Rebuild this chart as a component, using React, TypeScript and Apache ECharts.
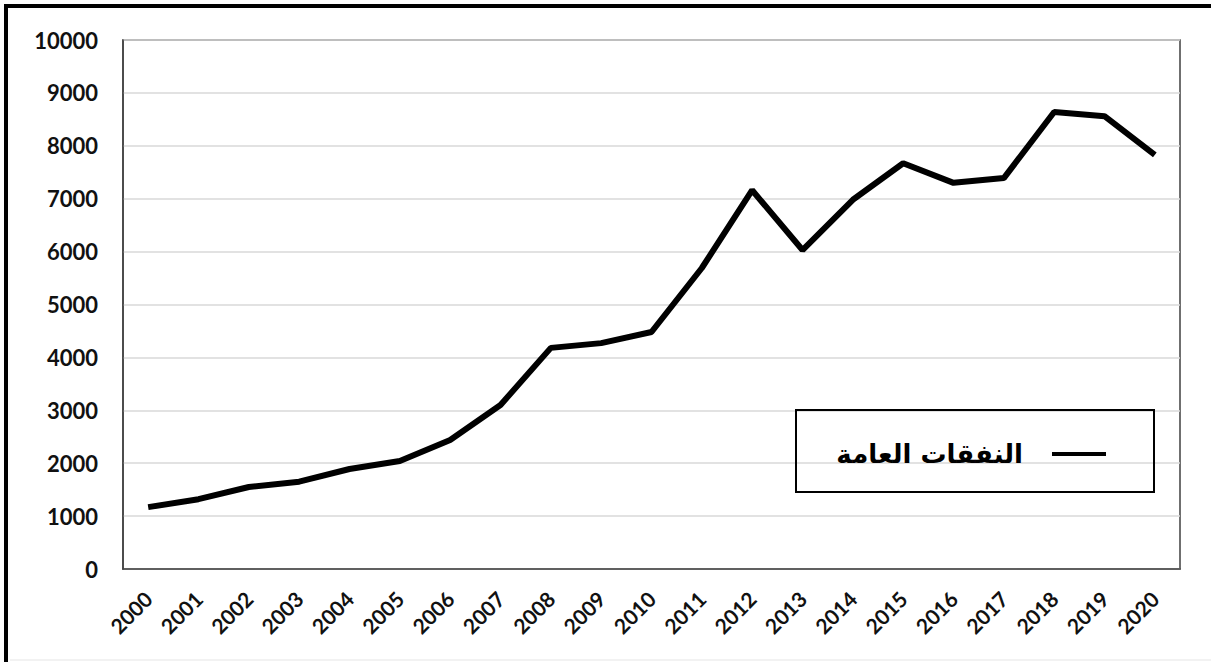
import React, { useEffect, useRef } from "react";
import * as echarts from "echarts";

const years = ["2000","2001","2002","2003","2004","2005","2006","2007","2008","2009","2010","2011","2012","2013","2014","2015","2016","2017","2018","2019","2020"];
const spending = [1170, 1320, 1550, 1650, 1890, 2040, 2440, 3100, 4180, 4270, 4480, 5690, 7160, 6030, 6980, 7670, 7300, 7390, 8640, 8560, 7830];
const seriesName = "النفقات العامة";

export default function App() {
  const ref = useRef<HTMLDivElement>(null);
  useEffect(() => {
    if (!ref.current) return;
    const chart = echarts.init(ref.current, null, { renderer: "svg" });
    chart.setOption({
      animation: false,
      backgroundColor: "#ffffff",
      grid: { left: 123, top: 40, right: 31, bottom: 93, show: true, borderColor: "#404040", borderWidth: 1.5, backgroundColor: "transparent" },
      xAxis: {
        type: "category",
        data: years,
        boundaryGap: true,
        axisLine: { show: true, lineStyle: { color: "#404040", width: 1.5 } },
        axisTick: { show: false },
        axisLabel: { rotate: 45, margin: 26, fontFamily: "Lato", fontWeight: "bold", fontSize: 21, color: "#111" },
      },
      yAxis: {
        type: "value",
        min: 0,
        max: 10000,
        interval: 1000,
        axisLine: { show: true, lineStyle: { color: "#404040", width: 1.5 } },
        axisTick: { show: false },
        splitLine: { lineStyle: { color: "#d9d9d9", width: 1.5 } },
        axisLabel: { margin: 25, fontFamily: "Lato", fontWeight: "bold", fontSize: 22, color: "#111", formatter: (v: number) => String(v) },
      },
      legend: {
        data: [seriesName],
        right: 100,
        top: 436,
        align: "right",
        icon: "rect",
        itemWidth: 54,
        itemHeight: 4,
        textStyle: { fontFamily: "DejaVu Sans", fontWeight: "bold", fontSize: 26, color: "#000", padding: [0, 24, 0, 0] },
      },
      graphic: [
        { type: "rect", shape: { x: 796, y: 410, width: 358, height: 82 }, style: { fill: "none", stroke: "#000", lineWidth: 2 }, z: 10 },
        { type: "line", shape: { x1: 6, y1: 4, x2: 6, y2: 662 }, style: { stroke: "#000", lineWidth: 4 } },
        { type: "line", shape: { x1: 4, y1: 6, x2: 1211, y2: 6 }, style: { stroke: "#000", lineWidth: 4 } },
        { type: "line", shape: { x1: 10, y1: 660, x2: 1211, y2: 660 }, style: { stroke: "#e5e5e5", lineWidth: 1 } },
      ],
      series: [
        {
          name: seriesName,
          type: "line",
          data: spending,
          symbol: "none",
          lineStyle: { color: "#000", width: 6 },
          itemStyle: { color: "#000" },
        },
      ],
    });
    return () => chart.dispose();
  }, []);
  return <div ref={ref} style={{ position: "fixed", left: 0, top: 0, width: 1211, height: 662 }} />;
}
